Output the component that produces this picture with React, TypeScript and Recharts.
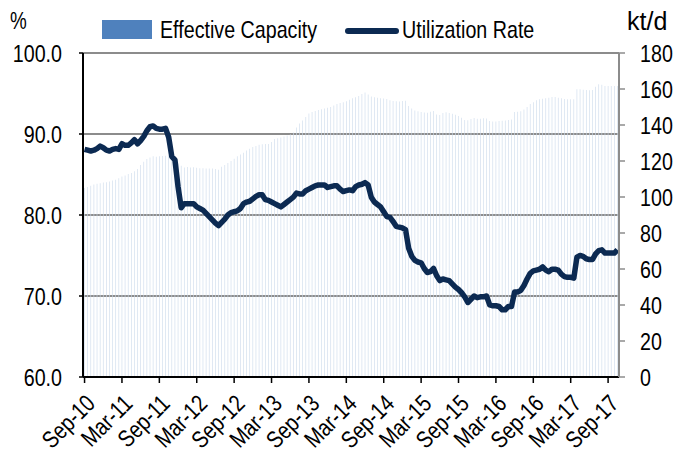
import { ComposedChart, Bar, Line, XAxis, YAxis, CartesianGrid, Legend, Label } from "recharts"

const FONT = "'Liberation Sans', Arial, sans-serif"
const NARROW = 0.82 // the source font is a narrow Arial; squeeze Liberation Sans to match

const MONTHS = ["Jan", "Feb", "Mar", "Apr", "May", "Jun", "Jul", "Aug", "Sep", "Oct", "Nov", "Dec"]

// two periods per month, Sep-10 to Oct-17
const PERIODS: string[] = []
for (let k = 0; k < 86; k++) {
  const m = (8 + k) % 12
  const yy = 10 + Math.floor((8 + k) / 12)
  PERIODS.push(`${MONTHS[m]}-${yy}|1`, `${MONTHS[m]}-${yy}|2`)
}

// kt/d, right axis
const CAPACITY = [
  105.0, 105.5, 106.3, 107.0, 107.3, 107.6, 108.0, 108.2, 108.6, 109.2, 109.6, 110.4,
  111.4, 112.0, 112.8, 113.4, 114.3, 115.5, 117.8, 119.6, 121.1, 122.0, 122.6, 122.4,
  122.6, 122.8, 122.9, 123.0, 121.4, 120.0, 118.6, 117.4, 116.4, 116.6, 116.4, 116.5,
  116.2, 116.0, 116.0, 115.9, 115.9, 115.9, 115.5, 115.1, 116.8, 117.8, 118.9, 120.0,
  121.2, 122.6, 123.6, 124.6, 125.8, 126.8, 127.8, 128.4, 129.0, 129.3, 129.5, 129.5,
  130.6, 132.2, 132.6, 133.1, 133.6, 134.2, 134.8, 135.8, 138.6, 140.8, 142.5, 144.5,
  146.4, 147.2, 147.8, 148.4, 148.8, 149.2, 149.6, 150.0, 150.9, 151.7, 152.2, 152.6,
  153.2, 154.0, 154.8, 155.4, 156.1, 157.2, 158.0, 157.0, 155.9, 155.4, 155.1, 154.9,
  154.7, 154.5, 153.8, 153.3, 153.2, 153.1, 153.3, 153.5, 150.5, 149.2, 148.0, 147.6,
  147.2, 147.0, 146.8, 147.4, 147.8, 145.8, 145.5, 146.6, 147.1, 146.6, 146.2, 145.7,
  145.0, 144.0, 142.8, 142.7, 143.3, 143.9, 143.5, 143.5, 143.8, 143.6, 142.2, 142.0,
  142.0, 142.2, 142.4, 142.5, 142.8, 143.1, 147.2, 147.3, 147.6, 148.6, 150.0, 151.6,
  152.7, 153.7, 154.3, 154.6, 154.9, 155.2, 155.5, 155.6, 155.2, 154.8, 154.4, 154.3,
  154.3, 154.3, 159.8, 159.8, 159.6, 159.4, 159.3, 159.5, 161.2, 162.6, 162.4, 161.7,
  161.7, 161.7, 161.7, 161.7,
]

// %, left axis
const UTILIZATION = [
  88.1, 88.0, 87.9, 88.0, 88.2, 88.5, 88.3, 88.0, 87.9, 88.1, 88.2, 88.1,
  88.8, 88.6, 88.6, 88.9, 89.3, 88.8, 89.2, 89.7, 90.4, 90.9, 91.0, 90.7,
  90.6, 90.6, 90.7, 89.6, 87.2, 86.8, 83.5, 80.9, 81.4, 81.4, 81.4, 81.4,
  81.0, 80.8, 80.6, 80.2, 79.8, 79.4, 79.0, 78.7, 79.1, 79.5, 80.0, 80.3,
  80.4, 80.5, 80.8, 81.4, 81.6, 81.7, 82.0, 82.3, 82.5, 82.5, 81.9, 81.8,
  81.6, 81.4, 81.2, 81.0, 81.3, 81.6, 81.9, 82.2, 82.7, 82.6, 82.6, 83.0,
  83.2, 83.4, 83.6, 83.7, 83.7, 83.7, 83.4, 83.5, 83.6, 83.6, 83.2, 82.9,
  83.0, 83.1, 83.0, 83.5, 83.7, 83.8, 84.0, 83.7, 82.2, 81.6, 81.3, 81.0,
  80.4, 79.8, 79.7, 79.2, 78.6, 78.5, 78.4, 78.2, 75.9, 74.9, 74.4, 74.2,
  74.1, 73.4, 72.9, 73.0, 73.4, 72.5, 71.9, 72.1, 72.0, 71.9, 71.5, 71.1,
  70.8, 70.4, 69.9, 69.2, 69.6, 70.0, 69.8, 69.9, 69.9, 70.0, 68.9, 68.8,
  68.8, 68.7, 68.3, 68.3, 68.7, 68.7, 70.5, 70.5, 70.7, 71.3, 72.1, 72.8,
  73.1, 73.2, 73.3, 73.6, 73.2, 73.0, 73.3, 73.3, 73.2, 72.7, 72.4, 72.3,
  72.3, 72.2, 74.8, 75.0, 74.9, 74.6, 74.5, 74.5, 75.2, 75.6, 75.7, 75.3,
  75.3, 75.3, 75.3, 75.7,
]

const TICK_LABELS = [
  "Sep-10", "Mar-11", "Sep-11", "Mar-12", "Sep-12", "Mar-13", "Sep-13", "Mar-14",
  "Sep-14", "Mar-15", "Sep-15", "Mar-16", "Sep-16", "Mar-17", "Sep-17",
]
const LEFT_TICKS = [60, 70, 80, 90, 100]
const RIGHT_TICKS = [0, 20, 40, 60, 80, 100, 120, 140, 160, 180]

const data = PERIODS.map((period, i) => ({
  period,
  capacity: CAPACITY[i],
  utilization: UTILIZATION[i],
}))

function XTick(props: any) {
  const { x, y, payload } = props
  return (
    <text
      transform={`translate(${x + 12},${y + 20}) rotate(-45) scale(${NARROW},1)`}
      textAnchor="end"
      fontFamily={FONT}
      fontSize={24}
      fill="#000"
    >
      {String(payload.value).split("|")[0]}
    </text>
  )
}

function YTick(props: any) {
  const { x, y, payload, textAnchor, digits } = props
  const label = digits ? Number(payload.value).toFixed(digits) : String(payload.value)
  return (
    <text
      transform={`translate(${x},${y}) scale(${NARROW},1)`}
      dy="0.36em"
      textAnchor={textAnchor}
      fontFamily={FONT}
      fontSize={24}
      fill="#000"
    >
      {label}
    </text>
  )
}

function LegendBox() {
  return (
    <svg width={520} height={38} style={{ display: "block" }}>
      <rect x={0} y={8} width={50} height={19} fill="#4f81bd" />
      <text transform={`translate(58,26) scale(${NARROW},1)`} fontFamily={FONT} fontSize={24} fill="#000">
        Effective Capacity
      </text>
      <line x1={246} y1={19} x2={294} y2={19} stroke="#0c2a52" strokeWidth={6} strokeLinecap="round" />
      <text transform={`translate(300,26) scale(${NARROW},1)`} fontFamily={FONT} fontSize={24} fill="#000">
        Utilization Rate
      </text>
    </svg>
  )
}

export default function App() {
  return (
    <ComposedChart width={675} height={448} data={data} margin={{ top: 45, right: 0, bottom: 0, left: 0 }} barCategoryGap="40%">
      <CartesianGrid yAxisId="left" vertical={false} stroke="#8c8c8c" strokeWidth={2} />
      <XAxis
        dataKey="period"
        ticks={TICK_LABELS.map((t) => `${t}|1`)}
        interval={0}
        height={79}
        tickSize={6}
        tickMargin={2}
        tick={<XTick />}
        axisLine={{ stroke: "#000", strokeWidth: 2 }}
        tickLine={{ stroke: "#000", strokeWidth: 1.5 }}
      />
      <YAxis
        yAxisId="left"
        orientation="left"
        domain={[60, 100]}
        ticks={LEFT_TICKS}
        width={75}
        tickSize={4}
        tickMargin={17}
        tick={<YTick digits={1} />}
        axisLine={{ stroke: "#000", strokeWidth: 2 }}
        tickLine={{ stroke: "#000", strokeWidth: 1.5 }}
      >
        <Label
          content={({ viewBox }: any) => (
            <text transform={`translate(${viewBox.x + 2},${viewBox.y - 24}) scale(${NARROW},1)`} fontFamily={FONT} fontSize={23} fill="#000">%</text>
          )}
        />
      </YAxis>
      <YAxis
        yAxisId="right"
        orientation="right"
        domain={[0, 180]}
        ticks={RIGHT_TICKS}
        width={64}
        tickSize={6}
        tickMargin={15}
        tick={<YTick />}
        axisLine={{ stroke: "#8c8c8c", strokeWidth: 2 }}
        tickLine={{ stroke: "#8c8c8c", strokeWidth: 1.5 }}
      >
        <Label
          content={({ viewBox }: any) => (
            <text x={viewBox.x + 8} y={viewBox.y - 23} fontFamily={FONT} fontSize={25} fill="#000">kt/d</text>
          )}
        />
      </YAxis>
      <Legend
        layout="horizontal"
        verticalAlign="middle"
        align="center"
        content={<LegendBox />}
        wrapperStyle={{ top: 4, left: 94, width: 520, height: 38 }}
      />
      <Bar yAxisId="right" dataKey="capacity" name="Effective Capacity" fill="#cddbec" isAnimationActive={false} />
      <Line
        yAxisId="left"
        dataKey="utilization"
        name="Utilization Rate"
        type="linear"
        stroke="#0c2a52"
        strokeWidth={5.5}
        strokeLinejoin="round"
        dot={false}
        activeDot={false}
        isAnimationActive={false}
      />
    </ComposedChart>
  )
}
